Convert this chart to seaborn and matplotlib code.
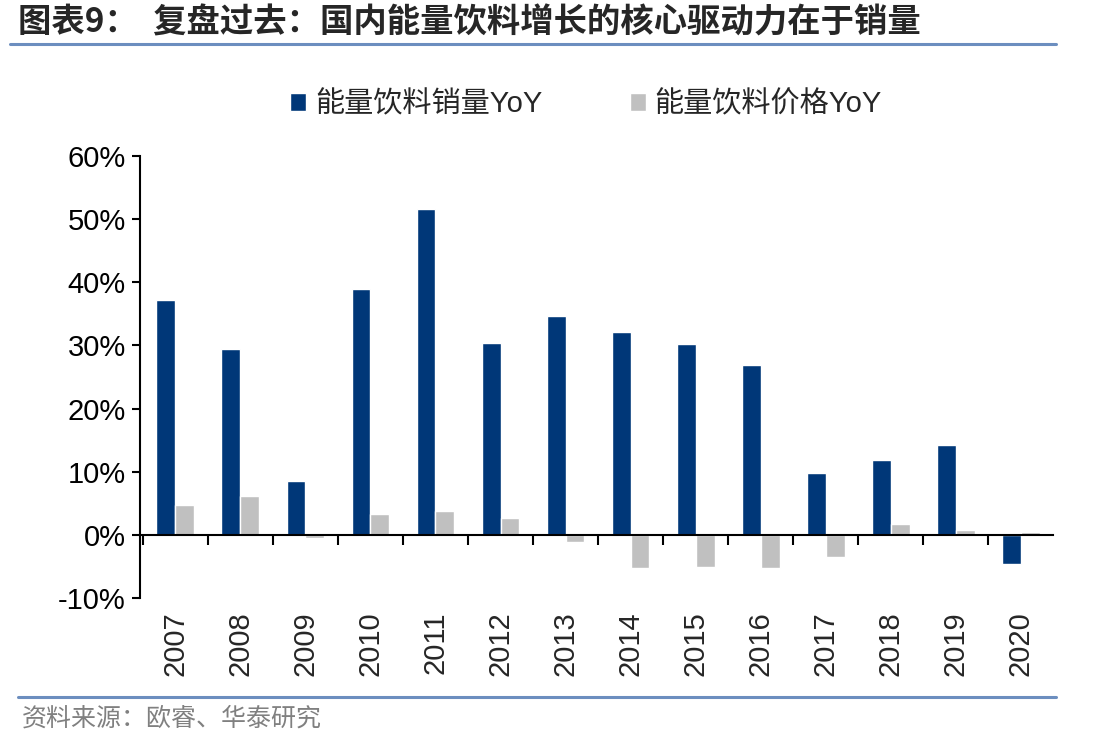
"""
图表9：国内能量饮料销量与价格同比
"""
import matplotlib
matplotlib.use('Agg')
import matplotlib.pyplot as plt
import seaborn as sns
import pandas as pd
import numpy as np
from matplotlib.lines import Line2D
from matplotlib.ticker import FuncFormatter, FixedLocator

# 数据（从原图读取，单位：%）
years = ['2007', '2008', '2009', '2010', '2011', '2012', '2013',
         '2014', '2015', '2016', '2017', '2018', '2019', '2020']
volume_yoy = [37.2, 29.4, 8.5, 38.9, 51.6, 30.4, 34.7,
              32.1, 30.2, 26.9, 9.8, 11.9, 14.2, -4.7]
price_yoy = [4.7, 6.2, -0.6, 3.3, 3.7, 2.6, -1.2,
             -5.2, -5.1, -5.3, -3.5, 1.7, 0.7, 0.5]
series_names = ['能量饮料销量YoY', '能量饮料价格YoY']

NAVY = '#003778'
GRAY = '#C0C0C0'

sns.set_style('white')
plt.rcParams['font.family'] = ['Liberation Sans', 'Noto Sans CJK SC', 'DejaVu Sans']


def build_frame():
    df_vol = pd.DataFrame({'year': years, 'value': volume_yoy, 'series': series_names[0]})
    df_price = pd.DataFrame({'year': years, 'value': price_yoy, 'series': series_names[1]})
    return pd.concat([df_vol, df_price], ignore_index=True)


def main():
    df = build_frame()
    fig = plt.figure(figsize=(11.1, 7.51), dpi=100)
    ax = fig.add_axes([0.126, 0.204, 0.823, 0.588])

    sns.barplot(data=df, x='year', y='value', hue='series', hue_order=series_names,
                palette=[NAVY, GRAY], width=0.58, gap=0, saturation=1,
                ax=ax, legend=True)

    # 坐标轴
    ax.set_ylim(-10, 60)
    ax.set_xlim(-0.545, len(years) - 0.5)
    ax.set_yticks(np.arange(-10, 61, 10))
    ax.yaxis.set_major_formatter(FuncFormatter(lambda v, p: f'{v:.0f}%'))
    ax.tick_params(axis='y', direction='out', length=6, width=1.5, labelsize=21, pad=4,
                   left=True, colors='black')
    ax.set_xlabel('')
    ax.set_ylabel('')

    for s in ['top', 'right']:
        ax.spines[s].set_visible(False)
    ax.spines['left'].set_linewidth(1.5)
    ax.spines['left'].set_color('black')
    ax.spines['bottom'].set_position(('data', 0))
    ax.spines['bottom'].set_linewidth(1.5)
    ax.spines['bottom'].set_color('black')

    # 类别分隔刻度 + 年份标签放到底部
    ax.xaxis.set_minor_locator(FixedLocator(np.arange(-0.5, len(years) - 1, 1.0)))
    ax.tick_params(axis='x', which='minor', direction='out', length=7, width=1.5,
                   bottom=True, colors='black')
    ax.tick_params(axis='x', which='major', length=0, labelsize=21, pad=55,
                   labelrotation=90)
    for lab in ax.get_xticklabels():
        lab.set_va('top')

    # 图例
    handles, labels = ax.get_legend_handles_labels()
    ax.get_legend().remove()
    fig.legend(handles, labels, loc='center', bbox_to_anchor=(0.528, 0.861), ncol=2,
               frameon=False, fontsize=21, handlelength=0.55, handleheight=0.55,
               handletextpad=0.3, columnspacing=3.0)

    # 标题与来源
    fig.text(0.016, 0.969, '图表9：  复盘过去：国内能量饮料增长的核心驱动力在于销量',
             fontsize=24, fontweight='bold', va='center', ha='left',
             family=['Noto Sans CJK SC', 'DejaVu Sans'])
    fig.add_artist(Line2D([0.009, 0.951], [0.941, 0.941], transform=fig.transFigure,
                          color='#6C8EBF', lw=2.2))
    fig.add_artist(Line2D([0.016, 0.951], [0.072, 0.072], transform=fig.transFigure,
                          color='#6C8EBF', lw=2.2))
    fig.text(0.02, 0.043, '资料来源：欧睿、华泰研究', fontsize=18, color='#808080',
             va='center', ha='left', family=['Noto Sans CJK SC', 'DejaVu Sans'])

    fig.savefig('out.png', dpi=100)
    plt.close(fig)


if __name__ == '__main__':
    main()
